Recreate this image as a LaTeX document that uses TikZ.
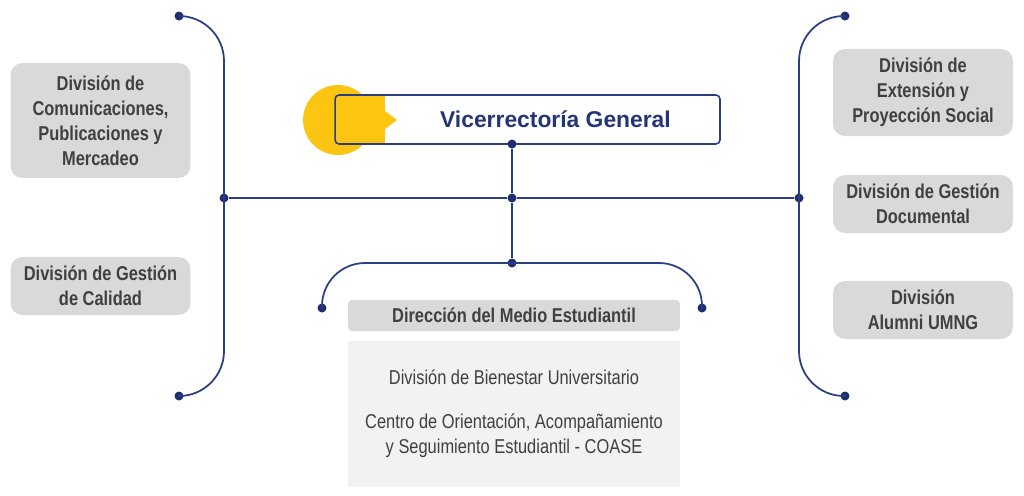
\documentclass[tikz,border=0pt]{standalone}
\usepackage{fontspec}
\setmainfont{Liberation Sans}[FakeStretch=0.82]
\newfontfamily\titlefont{Liberation Sans}
\usepackage{xcolor}
\usepackage{tikz}
\usetikzlibrary{positioning}
\definecolor{onavy}{HTML}{2A3E84}
\definecolor{odot}{HTML}{1F2F72}
\definecolor{otitle}{HTML}{233579}
\definecolor{ogold}{HTML}{FCC512}
\definecolor{ogray}{HTML}{D9D9D9}
\definecolor{opanel}{HTML}{F2F2F2}
\definecolor{otext}{HTML}{404040}
\tikzset{
  u/.style    = {fill=ogray, rounded corners=2.4mm, inner sep=0pt,
                 minimum width=3.6cm, minimum height=1.16cm, align=center,
                 font=\fontsize{11.4}{14.2}\selectfont\bfseries, text=otext},
  uh/.style   = {u, rounded corners=0.8mm, minimum width=6.64cm, minimum height=0.62cm},
  up/.style   = {fill=opanel, inner sep=0pt, minimum width=6.64cm, minimum height=2.92cm,
                 align=center, font=\fontsize{11.4}{14.2}\selectfont, text=otext},
  vbox/.style = {draw=onavy, line width=0.9pt, rounded corners=0.8mm, inner sep=0pt,
                 minimum width=7.7cm, minimum height=0.98cm,
                 font=\titlefont\fontsize{13}{15}\selectfont\bfseries, text=otitle},
  dot/.style  = {circle, fill=odot, inner sep=0pt, minimum size=1.8mm},
  link/.style = {draw=onavy, line width=1pt},
}
\begin{document}
\begin{tikzpicture}[x=0.02cm, y=-0.02cm]
\useasboundingbox (0,0) rectangle (1024,495);

% ---- yellow badge behind the title
\fill[ogold] (338,120) circle[radius=0.7cm];
\fill[ogold] (335,95) rectangle (385,144);
\fill[ogold] (385,111) -- (397,120) -- (385,129) -- cycle;

% ---- title
\node[vbox] (vic) at (527.5,119.5) {\hspace*{1.12cm}Vicerrectoría General};

% ---- junctions
\node[dot] (d1) at (512,144) {};
\node[dot] (d2) at (512,198) {};
\node[dot] (d3) at (512,263) {};
\node[dot] (lt) at (179,16)  {};
\node[dot] (lm) at (224,198) {};
\node[dot] (lb) at (179,396) {};
\node[dot] (rt) at (845,16)  {};
\node[dot] (rm) at (799,198) {};
\node[dot] (rb) at (845,396) {};
\node[dot] (bl) at (322,308) {};
\node[dot] (br) at (702,308) {};

% ---- lines
\draw[link] (d1) -- (d2) -- (d3);
\draw[link] (lm) -- (d2) -- (rm);
\draw[link, rounded corners=0.9cm]  (lt.center) -| (lm.center) |- (lb.center);
\draw[link, rounded corners=0.9cm]  (rt.center) -| (rm.center) |- (rb.center);
\draw[link, rounded corners=0.86cm] (bl.center) |- (d3.center) -| (br.center);

% ---- left units
\node[u, minimum height=2.3cm] (com) at (100.5,120.5) {División de\\Comunicaciones,\\Publicaciones y\\Mercadeo};
\node[u]                       (cal) at (100.5,286)   {División de Gestión\\de Calidad};

% ---- right units
\node[u, minimum height=1.74cm] (ext) at (923,92.5) {División de\\Extensión y\\Proyección Social};
\node[u]                        (doc) at (923,204)  {División de Gestión\\Documental};
\node[u]                        (alu) at (923,310)  {División\\Alumni UMNG};

% ---- student office
\node[uh] (dme) at (514,315.5) {Dirección del Medio Estudiantil};
\node[up, below=1.8mm of dme] (pan)
  {División de Bienestar Universitario\\[0.38cm]
   Centro de Orientación, Acompañamiento\\
   y Seguimiento Estudiantil - COASE};

\end{tikzpicture}
\end{document}
